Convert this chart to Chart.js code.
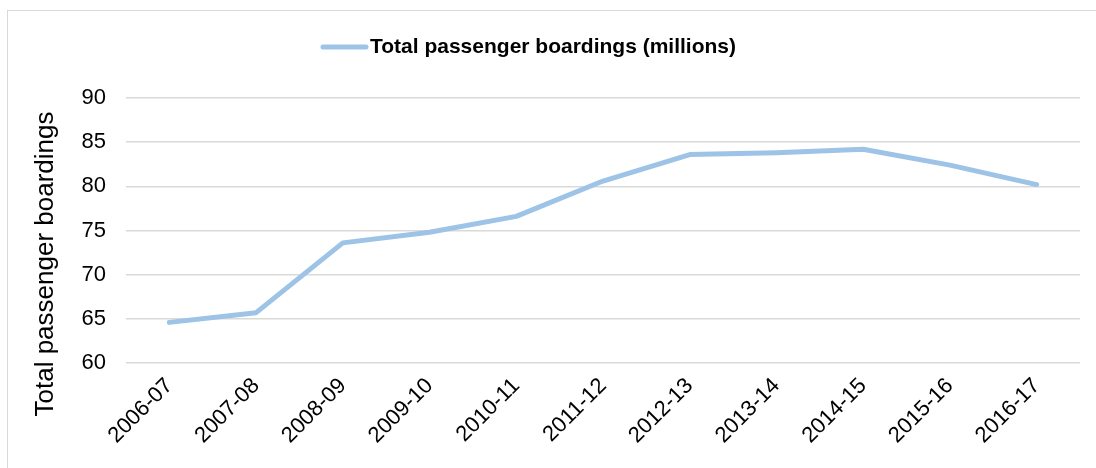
<!DOCTYPE html>
<html>
<head>
<meta charset="utf-8">
<script src="https://cdn.jsdelivr.net/npm/chart.js@4"></script>
<style>
  html, body { margin: 0; padding: 0; background: #fff; }
  #wrap { width: 1096px; height: 468px; position: relative; }
</style>
</head>
<body>
<div id="wrap"><canvas id="c" width="1096" height="468"></canvas></div>
<script>
const categories = ["2006-07","2007-08","2008-09","2009-10","2010-11","2011-12","2012-13","2013-14","2014-15","2015-16","2016-17"];
const boardings = [64.6, 65.7, 73.6, 74.8, 76.6, 80.6, 83.6, 83.8, 84.2, 82.4, 80.2];
const seriesLabel = "Total passenger boardings (millions)";
const yAxisTitle = "Total passenger boardings";
const yMin = 60, yMax = 90, yStep = 5;

const lineColor = "#9DC3E6";
const fontFamily = "'Liberation Sans', Arial, sans-serif";

const frameAndLegend = {
  id: "frameAndLegend",
  beforeDraw(chart) {
    const ctx = chart.ctx;
    ctx.save();
    ctx.fillStyle = "#fff";
    ctx.fillRect(0, 0, chart.width, chart.height);
    ctx.strokeStyle = "#d9d9d9";
    ctx.lineWidth = 1;
    ctx.strokeRect(7.5, 10.5, 1200, 600);
    ctx.restore();
  },
  afterDraw(chart) {
    const ctx = chart.ctx;
    const ds = chart.data.datasets[0];
    ctx.save();
    // legend
    ctx.strokeStyle = ds.borderColor;
    ctx.lineWidth = 5;
    ctx.lineCap = "round";
    ctx.beginPath();
    ctx.moveTo(323, 47);
    ctx.lineTo(366, 47);
    ctx.stroke();
    ctx.fillStyle = "#000";
    ctx.font = "bold 21px " + fontFamily;
    ctx.textBaseline = "middle";
    ctx.textAlign = "left";
    ctx.fillText(ds.label, 370, 47);
    // y axis title (centred on plot + category labels, as in the source)
    ctx.translate(46, 264);
    ctx.rotate(-Math.PI / 2);
    ctx.font = "26px " + fontFamily;
    ctx.textAlign = "center";
    ctx.textBaseline = "middle";
    ctx.fillText(yAxisTitle, 0, 0);
    ctx.restore();
  }
};

new Chart(document.getElementById("c"), {
  type: "line",
  data: {
    labels: categories,
    datasets: [{
      label: seriesLabel,
      data: boardings,
      borderColor: lineColor,
      backgroundColor: lineColor,
      borderWidth: 5,
      pointRadius: 0,
      tension: 0,
      borderCapStyle: "round",
      borderJoinStyle: "round",
      fill: false
    }]
  },
  options: {
    responsive: false,
    animation: false,
    devicePixelRatio: 1,
    layout: { padding: { left: 0, right: 16, top: 98, bottom: 0 } },
    plugins: {
      legend: { display: false },
      tooltip: { enabled: false }
    },
    scales: {
      x: {
        offset: true,
        grid: { display: false, drawTicks: false },
        border: { display: false },
        ticks: {
          autoSkip: false,
          minRotation: 45,
          maxRotation: 45,
          padding: 10,
          color: "#000",
          font: { family: fontFamily, size: 22 }
        },
        afterFit(scale) { scale.height = 105; }
      },
      y: {
        min: yMin,
        max: yMax,
        grid: { color: "#d9d9d9", lineWidth: 1.5, drawTicks: false },
        border: { display: false },
        ticks: {
          stepSize: yStep,
          padding: 20,
          color: "#000",
          font: { family: fontFamily, size: 22 }
        },
        title: { display: false, text: yAxisTitle },
        afterFit(scale) { scale.width = 126; }
      }
    }
  },
  plugins: [frameAndLegend]
});
</script>
</body>
</html>
